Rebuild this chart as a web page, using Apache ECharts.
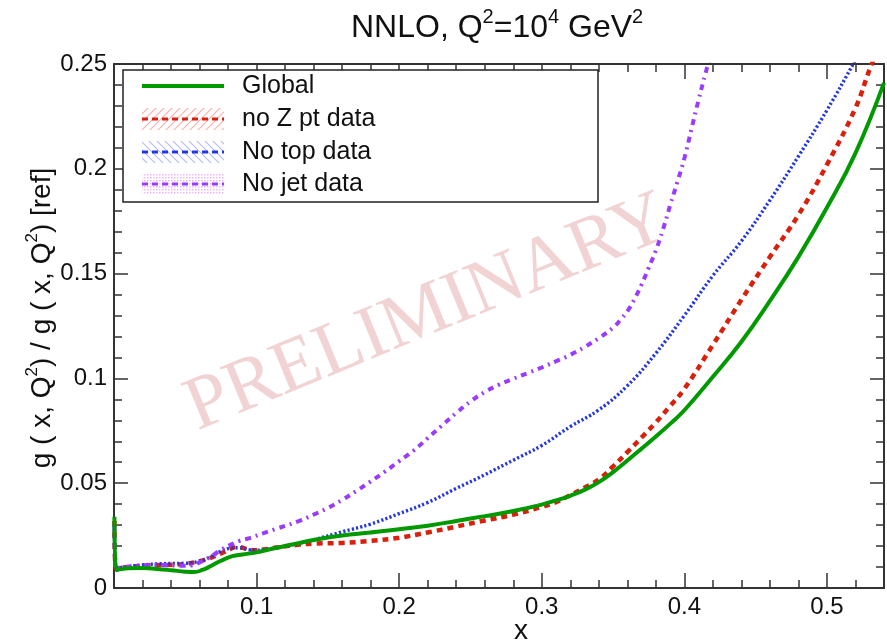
<!DOCTYPE html>
<html>
<head>
<meta charset="utf-8">
<script src="https://cdn.jsdelivr.net/npm/echarts@6/dist/echarts.min.js"></script>
<style>html,body{margin:0;padding:0;background:#fff}#c{width:887px;height:644px}</style>
</head>
<body>
<div id="c"></div>
<script>
// ---- data (x, ratio) ----
const seriesNames = ['Global', 'no Z pt data', 'No top data', 'No jet data'];

const globalData = [
  [0.0003,0.034],[0.0015,0.0085],[0.005,0.0090],[0.01,0.0094],[0.02,0.0095],[0.03,0.0091],
  [0.04,0.0085],[0.05,0.0078],[0.056,0.0076],[0.062,0.0086],[0.068,0.0105],[0.075,0.0130],
  [0.083,0.0152],[0.09,0.0160],[0.10,0.0170],[0.11,0.0186],[0.12,0.0200],[0.13,0.0215],
  [0.14,0.0229],[0.15,0.0241],[0.16,0.0251],[0.18,0.0265],[0.20,0.0280],[0.22,0.0297],
  [0.24,0.0320],[0.26,0.0343],[0.28,0.0367],[0.30,0.0398],[0.31,0.0418],[0.32,0.0440],
  [0.33,0.0468],[0.34,0.0505],[0.35,0.0553],[0.36,0.0608],[0.37,0.0665],[0.38,0.0723],
  [0.39,0.0783],[0.40,0.0848],[0.42,0.1008],[0.44,0.1175],[0.46,0.1370],[0.48,0.1580],
  [0.50,0.1815],[0.52,0.2075],[0.54,0.2410]
];
const noZptData = [
  [0.0003,0.032],[0.0015,0.0090],[0.005,0.0096],[0.01,0.0100],[0.02,0.0106],[0.03,0.0109],
  [0.04,0.0111],[0.05,0.0115],[0.06,0.0128],[0.067,0.0142],[0.075,0.0165],[0.082,0.0188],
  [0.087,0.0196],[0.092,0.0188],[0.098,0.0180],[0.105,0.0184],[0.115,0.0194],[0.13,0.0207],
  [0.14,0.0212],[0.16,0.0215],[0.18,0.0225],[0.20,0.0240],[0.22,0.0265],[0.24,0.0293],
  [0.26,0.0322],[0.28,0.0350],[0.30,0.0387],[0.31,0.0410],[0.32,0.0443],[0.33,0.0478],
  [0.34,0.0518],[0.35,0.0580],[0.36,0.0648],[0.37,0.0718],[0.38,0.0790],[0.39,0.0868],
  [0.40,0.0950],[0.42,0.1160],[0.44,0.1375],[0.46,0.1580],[0.48,0.1780],[0.50,0.2020],
  [0.52,0.2290],[0.53,0.2475],[0.54,0.2640]
];
const noTopData = [
  [0.0003,0.030],[0.0015,0.0090],[0.005,0.0098],[0.01,0.0102],[0.02,0.0110],[0.03,0.0115],
  [0.04,0.0117],[0.05,0.0118],[0.06,0.0128],[0.067,0.0146],[0.075,0.0176],[0.082,0.0190],
  [0.088,0.0192],[0.095,0.0182],[0.10,0.0180],[0.11,0.0188],[0.12,0.0199],[0.13,0.0214],
  [0.14,0.0230],[0.16,0.0268],[0.18,0.0305],[0.20,0.0355],[0.22,0.0408],[0.24,0.0475],
  [0.26,0.0540],[0.28,0.0610],[0.30,0.0680],[0.32,0.0770],[0.34,0.0850],[0.36,0.0965],
  [0.38,0.1120],[0.40,0.1300],[0.42,0.1490],[0.44,0.1655],[0.46,0.1850],[0.48,0.2060],
  [0.50,0.2280],[0.52,0.2520],[0.53,0.2650]
];
const noJetData = [
  [0.0003,0.030],[0.0015,0.0090],[0.005,0.0098],[0.01,0.0102],[0.02,0.0108],[0.03,0.0110],
  [0.04,0.0108],[0.05,0.0106],[0.055,0.0108],[0.06,0.0122],[0.067,0.0146],[0.075,0.0182],
  [0.08,0.0200],[0.088,0.0225],[0.095,0.0238],[0.105,0.0262],[0.115,0.0285],[0.13,0.0320],
  [0.14,0.0350],[0.15,0.0382],[0.16,0.0420],[0.17,0.0463],[0.18,0.0508],[0.19,0.0555],
  [0.20,0.0605],[0.21,0.0655],[0.22,0.0715],[0.23,0.0775],[0.24,0.0835],[0.25,0.0890],
  [0.26,0.0935],[0.27,0.0970],[0.28,0.0998],[0.29,0.1025],[0.30,0.1052],[0.31,0.1082],
  [0.32,0.1112],[0.33,0.1150],[0.34,0.1192],[0.35,0.1242],[0.355,0.1278],[0.36,0.1320],
  [0.365,0.1378],[0.37,0.1448],[0.375,0.1528],[0.38,0.1610],[0.385,0.1710],[0.39,0.1825],
  [0.395,0.1935],[0.40,0.2050],[0.405,0.2190],[0.41,0.2330],[0.415,0.2460],[0.42,0.2590]
];
const xTicks = [0.1, 0.2, 0.3, 0.4, 0.5];
const yTicks = [0, 0.05, 0.1, 0.15, 0.2, 0.25];

// ---- styling ----
const FONT = 'Liberation Sans, Arial, Helvetica, sans-serif';
const AX = '#333';
const GREEN = '#009a00', RED = '#d8200c', BLUE = '#2236e6', PURPLE = '#9a3cff';

function patternCanvas(kind, color) {
  const c = document.createElement('canvas');
  c.width = 8; c.height = 8;
  const g = c.getContext('2d');
  g.strokeStyle = color; g.fillStyle = color; g.lineWidth = 1.2;
  if (kind === 'fwd') {
    g.beginPath();
    g.moveTo(-2, 10); g.lineTo(10, -2);
    g.moveTo(-6, 6); g.lineTo(6, -6);
    g.moveTo(2, 14); g.lineTo(14, 2);
    g.stroke();
  } else if (kind === 'back') {
    g.beginPath();
    g.moveTo(-2, -2); g.lineTo(10, 10);
    g.moveTo(-6, 2); g.lineTo(6, 14);
    g.moveTo(2, -6); g.lineTo(14, 6);
    g.stroke();
  } else {
    c.width = 3; c.height = 3;
    const g2 = c.getContext('2d');
    g2.fillStyle = color;
    g2.fillRect(0, 0, 1.5, 1.5);
  }
  return c;
}

const chart = echarts.init(document.getElementById('c'), null, {renderer: 'canvas'});

function axisCommon(showLabel, isX) {
  return {
    type: 'value',
    min: 0,
    max: isX ? 0.54 : 0.25,
    interval: isX ? 0.1 : 0.05,
    axisLine: {show: true, onZero: false, lineStyle: {color: AX, width: 2}},
    axisTick: {show: true, inside: true, length: isX ? 15 : 14, lineStyle: {color: AX, width: 1.5}},
    minorTick: {show: true, splitNumber: 5, length: 8, lineStyle: {color: AX, width: 1.5}},
    splitLine: {show: false},
    axisLabel: {
      show: showLabel,
      fontSize: 24,
      fontFamily: FONT,
      color: '#111',
      margin: 7,
      formatter: function (v) {
        const list = isX ? xTicks : yTicks;
        const hit = list.find(t => Math.abs(t - v) < 1e-6);
        return hit === undefined ? '' : String(hit);
      }
    }
  };
}

const supRich = (size, lh) => ({sup: {fontSize: size, fontFamily: FONT, verticalAlign: 'top', lineHeight: size}});

const LX = 142, LW = 82, TX = 242;
const rowY = [86, 119, 152, 184];

const legendElems = [
  {type: 'rect', z: 50, shape: {x: 123, y: 70, width: 475, height: 132},
   style: {fill: '#fff', stroke: '#222', lineWidth: 1.5}},
  {type: 'line', z: 51, shape: {x1: LX, y1: rowY[0], x2: LX + LW, y2: rowY[0]},
   style: {stroke: GREEN, lineWidth: 4}},
  {type: 'rect', z: 51, shape: {x: LX, y: rowY[1] - 11, width: LW, height: 22},
   style: {fill: {image: patternCanvas('fwd', '#ffb0b0'), repeat: 'repeat'}}},
  {type: 'line', z: 52, shape: {x1: LX, y1: rowY[1], x2: LX + LW, y2: rowY[1]},
   style: {stroke: RED, lineWidth: 3, lineDash: [6, 4]}},
  {type: 'rect', z: 51, shape: {x: LX, y: rowY[2] - 11, width: LW, height: 22},
   style: {fill: {image: patternCanvas('back', '#b8bcff'), repeat: 'repeat'}}},
  {type: 'line', z: 52, shape: {x1: LX, y1: rowY[2], x2: LX + LW, y2: rowY[2]},
   style: {stroke: BLUE, lineWidth: 3, lineDash: [6, 4]}},
  {type: 'rect', z: 51, shape: {x: LX, y: rowY[3] - 11, width: LW, height: 22},
   style: {fill: {image: patternCanvas('dots', '#f2b4ff'), repeat: 'repeat'}}},
  {type: 'line', z: 52, shape: {x1: LX, y1: rowY[3], x2: LX + LW, y2: rowY[3]},
   style: {stroke: PURPLE, lineWidth: 3, lineDash: [6, 4]}}
];
seriesNames.forEach((n, i) => {
  legendElems.push({type: 'text', z: 52, x: TX, y: rowY[i],
    style: {text: n, fontSize: 25, fontFamily: FONT, fill: '#111', align: 'left', verticalAlign: 'middle'}});
});

const option = {
  animation: false,
  backgroundColor: '#fff',
  title: {
    text: 'NNLO, Q{sup|2}=10{sup|4} GeV{sup|2}',
    left: 346, top: 2,
    textStyle: {fontSize: 32, lineHeight: 42, fontWeight: 'normal', color: '#111', fontFamily: FONT, rich: supRich(20)}
  },
  grid: {left: 114, right: 1, top: 64, bottom: 56, containLabel: false},
  xAxis: [
    Object.assign(axisCommon(true, true), {position: 'bottom'}),
    Object.assign(axisCommon(false, true), {position: 'top'})
  ],
  yAxis: [
    Object.assign(axisCommon(true, false), {position: 'left'}),
    Object.assign(axisCommon(false, false), {position: 'right'})
  ],
  graphic: [
    {type: 'text', z: 0, x: 428, y: 314, rotation: 0.39,
     style: {text: 'PRELIMINARY', fontSize: 76, fontFamily: 'Liberation Serif, DejaVu Serif, serif',
             fill: '#f1d3d3', align: 'center', verticalAlign: 'middle'}},
    {type: 'text', z: 5, x: 42, y: 318, rotation: Math.PI / 2,
     style: {text: 'g ( x, Q{sup|2}) / g ( x, Q{sup|2}) [ref]', fontSize: 28, lineHeight: 36, fontFamily: FONT, fill: '#111',
             align: 'center', verticalAlign: 'middle', rich: supRich(17)}},
    {type: 'text', z: 5, x: 521, y: 631,
     style: {text: 'x', fontSize: 28, fontFamily: FONT, fill: '#111', align: 'center', verticalAlign: 'middle'}},
    ...legendElems
  ],
  series: [
    {name: seriesNames[0], type: 'line', data: globalData, showSymbol: false, smooth: 0.45, z: 4,
     lineStyle: {color: GREEN, width: 4, type: 'solid'}},
    {name: seriesNames[1], type: 'line', data: noZptData, showSymbol: false, smooth: 0.45, z: 3,
     lineStyle: {color: RED, width: 4.5, type: [6, 5]}},
    {name: seriesNames[2], type: 'line', data: noTopData, showSymbol: false, smooth: 0.45, z: 3,
     lineStyle: {color: BLUE, width: 3.4, type: [2.2, 2.2]}},
    {name: seriesNames[3], type: 'line', data: noJetData, showSymbol: false, smooth: 0.45, z: 3,
     lineStyle: {color: PURPLE, width: 4, type: [6, 5, 2, 5]}}
  ]
};
chart.setOption(option);
</script>
</body>
</html>
